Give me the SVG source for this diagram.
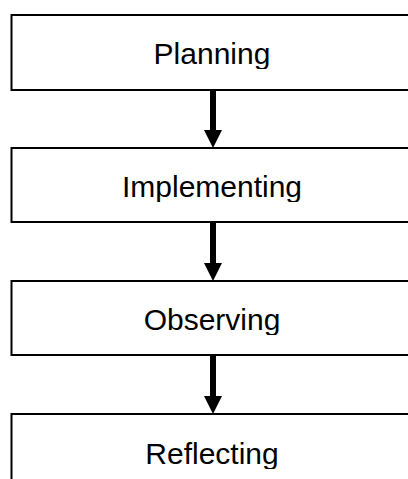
<svg xmlns="http://www.w3.org/2000/svg" width="408" height="479" viewBox="0 0 408 479">
  <style>
    .box { fill: #ffffff; stroke: #000000; stroke-width: 2; }
    .lbl { font-family: "Liberation Sans", Arial, sans-serif; font-size: 30px; fill: #000000; text-anchor: middle; }
    .shaft { stroke: #000000; stroke-width: 6; fill: none; }
    .head { fill: #000000; }
  </style>
  <defs>
    <clipPath id="c1"><rect x="0" y="0" width="408" height="69"/></clipPath>
    <clipPath id="c2"><rect x="0" y="140" width="408" height="62"/></clipPath>
    <clipPath id="c3"><rect x="0" y="270" width="408" height="65"/></clipPath>
    <clipPath id="c4"><rect x="0" y="405" width="408" height="64"/></clipPath>
  </defs>
  <rect width="408" height="479" fill="#ffffff"/>
  <g id="connectors">
    <line class="shaft" x1="213" y1="90" x2="213" y2="131"/>
    <polygon class="head" points="204,130 222,130 213,148"/>
    <line class="shaft" x1="213" y1="223" x2="213" y2="264"/>
    <polygon class="head" points="204,263 222,263 213,281"/>
    <line class="shaft" x1="213" y1="356" x2="213" y2="397"/>
    <polygon class="head" points="204,396 222,396 213,414"/>
  </g>
  <g id="planning">
    <rect class="box" x="11.5" y="15" width="410" height="75"/>
    <text class="lbl" x="212" y="63.5" clip-path="url(#c1)">Planning</text>
  </g>
  <g id="implementing">
    <rect class="box" x="11.5" y="148" width="410" height="74"/>
    <text class="lbl" x="212" y="196.5" clip-path="url(#c2)">Implementing</text>
  </g>
  <g id="observing">
    <rect class="box" x="11.5" y="281" width="410" height="74"/>
    <text class="lbl" x="212" y="330" clip-path="url(#c3)">Observing</text>
  </g>
  <g id="reflecting">
    <rect class="box" x="11.5" y="414" width="410" height="80"/>
    <text class="lbl" x="212" y="464" clip-path="url(#c4)">Reflecting</text>
  </g>
</svg>
